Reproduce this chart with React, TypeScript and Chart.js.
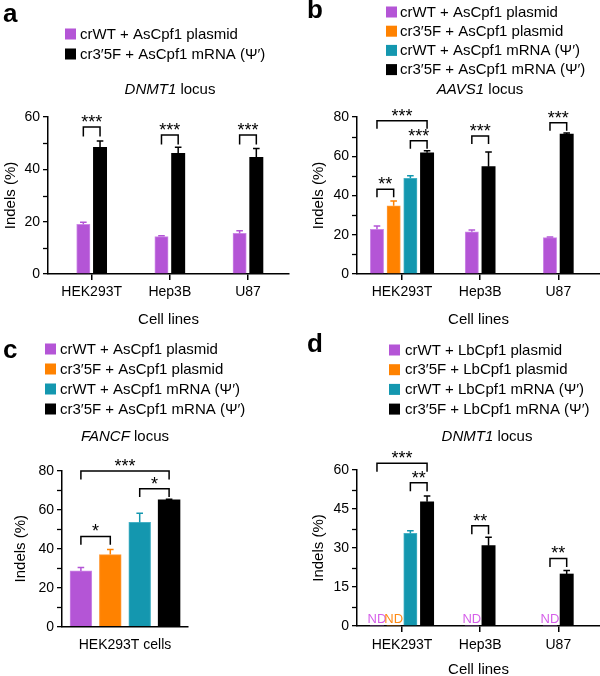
import React, { useEffect, useRef } from 'react';
import { Chart, registerables } from 'chart.js';

Chart.register(...registerables);

const FONT = "'Liberation Sans', Arial, Helvetica, sans-serif";
Chart.defaults.font.family = FONT;
Chart.defaults.color = '#000';

// ---------------- data ----------------
const cellLines = ['HEK293T', 'Hep3B', 'U87'];
const cellsC = ['HEK293T cells'];
const yAxisTitle = 'Indels (%)';
const xAxisTitle = 'Cell lines';

// panel a – DNMT1 locus (AsCpf1)
const aLabels = ['crWT + AsCpf1 plasmid', 'cr3\u20325F + AsCpf1 mRNA (\u03A8\u2032)'];
const aWtPlasmid = [19.0, 14.3, 15.5];
const aWtPlasmidErr = [0.8, 0.3, 1.0];
const a5fMrna = [48.4, 46.1, 44.6];
const a5fMrnaErr = [2.4, 2.3, 3.4];
const aTicks = [0, 20, 40, 60];
const aBrackets: [number, number, number, number, string][] = [
  [0, 0, 1, 56.2, '***'],
  [1, 0, 1, 53.1, '***'],
  [2, 0, 1, 53.1, '***'],
];

// panel b – AAVS1 locus (AsCpf1)
const asLabels = [
  'crWT + AsCpf1 plasmid',
  'cr3\u20325F + AsCpf1 plasmid',
  'crWT + AsCpf1 mRNA (\u03A8\u2032)',
  'cr3\u20325F + AsCpf1 mRNA (\u03A8\u2032)',
];
const bWtPlasmid = [22.8, 21.5, 18.5];
const bWtPlasmidErr = [1.6, 0.9, 0.3];
const b5fPlasmid = [34.8, null, null];
const b5fPlasmidErr = [2.4, null, null];
const bWtMrna = [48.8, null, null];
const bWtMrnaErr = [1.3, null, null];
const b5fMrna = [61.8, 54.7, 71.3];
const b5fMrnaErr = [1.0, 7.5, 0.5];
const bTicks = [0, 20, 40, 60, 80];
const bBrackets: [number, number, number, number, string][] = [
  [0, 0, 1, 43.2, '**'],
  [0, 2, 3, 67.9, '***'],
  [0, 0, 3, 78.1, '***'],
  [1, 0, 3, 70.3, '***'],
  [2, 0, 3, 77.1, '***'],
];

// panel c – FANCF locus (AsCpf1, HEK293T)
const cWtPlasmid = [28.6];
const cWtPlasmidErr = [1.7];
const c5fPlasmid = [37.0];
const c5fPlasmidErr = [2.6];
const cWtMrna = [53.5];
const cWtMrnaErr = [4.7];
const c5fMrna = [65.0];
const c5fMrnaErr = [0.4];
const cTicks = [0, 20, 40, 60, 80];
const cBrackets: [number, number, number, number, string][] = [
  [0, 0, 1, 46.3, '*'],
  [0, 2, 3, 70.8, '*'],
  [0, 0, 3, 79.8, '***'],
];

// panel d – DNMT1 locus (LbCpf1); 0 = not detected (ND)
const lbLabels = [
  'crWT + LbCpf1 plasmid',
  'cr3\u20325F + LbCpf1 plasmid',
  'crWT + LbCpf1 mRNA (\u03A8\u2032)',
  'cr3\u20325F + LbCpf1 mRNA (\u03A8\u2032)',
];
const dWtPlasmid = [0, 0, 0];
const d5fPlasmid = [0, null, null];
const dWtMrna = [35.6, null, null];
const dWtMrnaErr = [1.0, null, null];
const d5fMrna = [47.8, 30.9, 20.0];
const d5fMrnaErr = [2.2, 3.2, 1.3];
const dTicks = [0, 15, 30, 45, 60];
const ndText = 'ND';
const dBrackets: [number, number, number, number, string][] = [
  [0, 0, 3, 62.6, '***'],
  [0, 2, 3, 55.1, '**'],
  [1, 0, 3, 38.6, '**'],
  [2, 0, 3, 26.0, '**'],
];

// ---------------- styles ----------------
const PURPLE = '#B455D6';
const PURPLE_EDGE = '#CC88E6';
const ORANGE = '#FF8200';
const ORANGE_EDGE = '#FF9A36';
const TEAL = '#1497AF';
const TEAL_EDGE = '#45B1C5';
const BLACK = '#000000';
const ND_PURPLE = '#D65FEA';
const ND_ORANGE = '#FF8A14';

function bar(label: string, data: any[], errors: any[] | null, color: string, edge: string | null, extra: any = {}) {
  return {
    label,
    data,
    errors,
    backgroundColor: color,
    borderColor: edge || color,
    borderWidth: edge ? 1 : 0,
    errColor: color,
    ...extra,
  };
}

interface PanelSpec {
  key: string;
  pos: { left: number; top: number; width: number; height: number };
  area: { left: number; right: number; top: number; bottom: number };
  catStart: number;
  catRange: number;
  categories: string[];
  datasets: any[];
  yMax: number;
  yMajor: number[];
  brackets: [number, number, number, number, string][];
  letter: string;
  letterX: number;
  letterY: number;
  legendX: number;
  legendY: number;
  legendDy: number;
  legendTextX: number;
  titleItalic: string;
  titleRest: string;
  titleX: number;
  titleY: number;
  yTitlePad: number;
  xTitle?: string;
  xTitlePad: number;
  xTicks: boolean;
  xLabelPad: number;
  barChunk: number;
  barWidth: number;
  bracketLeg: number;
}

const specs: PanelSpec[] = [
  {
    key: 'a',
    pos: { left: 0, top: 0, width: 300, height: 330 },
    area: { left: 48, right: 289, top: 117, bottom: 274 },
    catStart: -0.559,
    catRange: 3.084,
    categories: cellLines,
    datasets: [
      bar(aLabels[0], aWtPlasmid, aWtPlasmidErr, PURPLE, PURPLE_EDGE),
      bar(aLabels[1], a5fMrna, a5fMrnaErr, BLACK, null),
    ],
    yMax: 60,
    yMajor: aTicks,
    brackets: aBrackets,
    letter: 'a',
    letterX: 3,
    letterY: 22,
    legendX: 65,
    legendY: 34,
    legendDy: 20,
    legendTextX: 80,
    titleItalic: 'DNMT1',
    titleRest: ' locus',
    titleX: 170,
    titleY: 90,
    yTitlePad: 1.5,
    xTitle: xAxisTitle,
    xTitlePad: 1,
    xTicks: true,
    xLabelPad: 4,
    barChunk: 16.7,
    barWidth: 13.3,
    bracketLeg: 9.5,
  },
  {
    key: 'b',
    pos: { left: 300, top: 0, width: 300, height: 330 },
    area: { left: 57, right: 300, top: 117, bottom: 274 },
    catStart: -0.576,
    catRange: 3.109,
    categories: cellLines,
    datasets: [
      bar(asLabels[0], bWtPlasmid, bWtPlasmidErr, PURPLE, PURPLE_EDGE),
      bar(asLabels[1], b5fPlasmid, b5fPlasmidErr, ORANGE, ORANGE_EDGE),
      bar(asLabels[2], bWtMrna, bWtMrnaErr, TEAL, TEAL_EDGE),
      bar(asLabels[3], b5fMrna, b5fMrnaErr, BLACK, null),
    ],
    yMax: 80,
    yMajor: bTicks,
    brackets: bBrackets,
    letter: 'b',
    letterX: 7,
    letterY: 18,
    legendX: 86,
    legendY: 12,
    legendDy: 19.2,
    legendTextX: 100,
    titleItalic: 'AAVS1',
    titleRest: ' locus',
    titleX: 180,
    titleY: 90,
    yTitlePad: 10,
    xTitle: xAxisTitle,
    xTitlePad: 1,
    xTicks: true,
    xLabelPad: 4,
    barChunk: 16.7,
    barWidth: 13.3,
    bracketLeg: 8,
  },
  {
    key: 'c',
    pos: { left: 0, top: 330, width: 300, height: 346 },
    area: { left: 62, right: 188, top: 140.7, bottom: 296.7 },
    catStart: -0.5,
    catRange: 1,
    categories: cellsC,
    datasets: [
      bar(asLabels[0], cWtPlasmid, cWtPlasmidErr, PURPLE, PURPLE_EDGE),
      bar(asLabels[1], c5fPlasmid, c5fPlasmidErr, ORANGE, ORANGE_EDGE),
      bar(asLabels[2], cWtMrna, cWtMrnaErr, TEAL, TEAL_EDGE),
      bar(asLabels[3], c5fMrna, c5fMrnaErr, BLACK, null),
    ],
    yMax: 80,
    yMajor: cTicks,
    brackets: cBrackets,
    letter: 'c',
    letterX: 3,
    letterY: 28,
    legendX: 45,
    legendY: 19,
    legendDy: 20,
    legendTextX: 60,
    titleItalic: 'FANCF',
    titleRest: ' locus',
    titleX: 125,
    titleY: 107,
    yTitlePad: 12,
    xTitlePad: 1,
    xTicks: false,
    xLabelPad: 10,
    barChunk: 29.4,
    barWidth: 21.8,
    bracketLeg: 8.3,
  },
  {
    key: 'd',
    pos: { left: 300, top: 330, width: 300, height: 350 },
    area: { left: 57, right: 300, top: 140, bottom: 296 },
    catStart: -0.576,
    catRange: 3.109,
    categories: cellLines,
    datasets: [
      bar(lbLabels[0], dWtPlasmid, null, PURPLE, null, { ndColor: ND_PURPLE }),
      bar(lbLabels[1], d5fPlasmid, null, ORANGE, null, { ndColor: ND_ORANGE }),
      bar(lbLabels[2], dWtMrna, dWtMrnaErr, TEAL, TEAL_EDGE),
      bar(lbLabels[3], d5fMrna, d5fMrnaErr, BLACK, null),
    ],
    yMax: 60,
    yMajor: dTicks,
    brackets: dBrackets,
    letter: 'd',
    letterX: 7,
    letterY: 22,
    legendX: 89,
    legendY: 20,
    legendDy: 19.7,
    legendTextX: 105,
    titleItalic: 'DNMT1',
    titleRest: ' locus',
    titleX: 187,
    titleY: 107,
    yTitlePad: 10,
    xTitle: xAxisTitle,
    xTitlePad: 1,
    xTicks: true,
    xLabelPad: 5,
    barChunk: 16.7,
    barWidth: 13.3,
    bracketLeg: 8.5,
  },
];

function makeDecor(spec: PanelSpec) {
  return {
    id: 'decor_' + spec.key,
    afterDatasetsDraw(chart: any) {
      const ctx = chart.ctx;
      const ys = chart.scales.y;
      chart.data.datasets.forEach((ds: any, di: number) => {
        const meta = chart.getDatasetMeta(di);
        ctx.save();
        if (ds.errors) {
          ctx.strokeStyle = ds.errColor;
          ctx.lineWidth = 1.5;
          ds.data.forEach((v: any, i: number) => {
            const e = ds.errors[i];
            const el = meta.data[i];
            if (v == null || e == null || !el) return;
            const x = el.x;
            const y0 = ys.getPixelForValue(v);
            const y1 = ys.getPixelForValue(v + e);
            ctx.beginPath();
            ctx.moveTo(x, y0);
            ctx.lineTo(x, y1);
            ctx.moveTo(x - 3.3, y1);
            ctx.lineTo(x + 3.3, y1);
            ctx.stroke();
          });
        }
        if (ds.ndColor) {
          ctx.fillStyle = ds.ndColor;
          ctx.font = `13px ${FONT}`;
          ctx.textAlign = 'center';
          ctx.textBaseline = 'alphabetic';
          ds.data.forEach((v: any, i: number) => {
            const el = meta.data[i];
            if (v !== 0 || !el) return;
            ctx.fillText(ndText, el.x, chart.chartArea.bottom - 3);
          });
        }
        ctx.restore();
      });
    },
    afterDraw(chart: any) {
      const ctx = chart.ctx;
      const ys = chart.scales.y;
      ctx.save();

      // minor y ticks halfway between the labelled ticks
      ctx.strokeStyle = '#000';
      ctx.lineWidth = 1.3;
      const ax = chart.chartArea.left;
      for (let i = 0; i < spec.yMajor.length - 1; i++) {
        const v = (spec.yMajor[i] + spec.yMajor[i + 1]) / 2;
        const y = Math.round(ys.getPixelForValue(v)) + 0.5;
        ctx.beginPath();
        ctx.moveTo(ax - 5, y);
        ctx.lineTo(ax, y);
        ctx.stroke();
      }

      // panel letter
      ctx.fillStyle = '#000';
      ctx.font = `bold 26px ${FONT}`;
      ctx.textAlign = 'left';
      ctx.textBaseline = 'alphabetic';
      ctx.fillText(spec.letter, spec.letterX, spec.letterY);

      // legend
      ctx.font = `15px ${FONT}`;
      ctx.textBaseline = 'middle';
      chart.data.datasets.forEach((ds: any, i: number) => {
        const cy = spec.legendY + i * spec.legendDy;
        ctx.fillStyle = ds.backgroundColor;
        ctx.fillRect(spec.legendX, cy - 5.5, 11, 11);
        ctx.fillStyle = '#000';
        ctx.fillText(ds.label, spec.legendTextX, cy + 0.5);
      });

      // title with italic gene name
      ctx.font = `italic 15px ${FONT}`;
      const w1 = ctx.measureText(spec.titleItalic).width;
      ctx.font = `15px ${FONT}`;
      const w2 = ctx.measureText(spec.titleRest).width;
      const sx = spec.titleX - (w1 + w2) / 2;
      ctx.font = `italic 15px ${FONT}`;
      ctx.fillText(spec.titleItalic, sx, spec.titleY);
      ctx.font = `15px ${FONT}`;
      ctx.fillText(spec.titleRest, sx + w1, spec.titleY);

      // significance brackets
      ctx.strokeStyle = '#000';
      ctx.lineWidth = 1.5;
      ctx.font = `18px ${FONT}`;
      ctx.textAlign = 'center';
      ctx.textBaseline = 'alphabetic';
      spec.brackets.forEach(([cat, from, to, level, stars]) => {
        const e1 = chart.getDatasetMeta(from).data[cat];
        const e2 = chart.getDatasetMeta(to).data[cat];
        if (!e1 || !e2) return;
        const x1 = e1.x;
        const x2 = e2.x;
        const yt = ys.getPixelForValue(level);
        ctx.beginPath();
        ctx.moveTo(x1, yt + spec.bracketLeg);
        ctx.lineTo(x1, yt);
        ctx.lineTo(x2, yt);
        ctx.lineTo(x2, yt + spec.bracketLeg);
        ctx.stroke();
        const m = ctx.measureText(stars);
        const a = m.actualBoundingBoxAscent || 13;
        const d = m.actualBoundingBoxDescent || -7;
        const target = yt - 8.5;
        ctx.fillText(stars, (x1 + x2) / 2, target - (d - a) / 2);
      });
      ctx.restore();
    },
  };
}

function buildChart(canvas: HTMLCanvasElement, spec: PanelSpec) {
  const { area, pos } = spec;
  const datasets = spec.datasets.map((ds) => ({
    ...ds,
    barThickness: spec.barChunk,
    maxBarThickness: spec.barWidth,
    skipNull: true,
  }));
  return new Chart(canvas, {
    type: 'bar',
    data: { labels: spec.categories, datasets },
    options: {
      responsive: false,
      animation: false,
      events: [],
      layout: { padding: { top: area.top, left: 0, right: pos.width - area.right, bottom: 0 } },
      plugins: {
        legend: { display: false },
        title: { display: false },
        tooltip: { enabled: false },
      },
      scales: {
        x: {
          type: 'category',
          offset: true,
          grid: {
            display: spec.xTicks,
            drawOnChartArea: false,
            offset: false,
            drawTicks: spec.xTicks,
            tickLength: 6,
            color: '#000',
            lineWidth: 1.5,
          },
          border: { display: true, color: '#000', width: 1.5 },
          ticks: {
            color: '#000',
            font: { size: 14, family: FONT },
            padding: spec.xLabelPad,
            maxRotation: 0,
            autoSkip: false,
          },
          title: spec.xTitle
            ? {
                display: true,
                text: spec.xTitle,
                color: '#000',
                font: { size: 15, family: FONT },
                padding: { top: 0, bottom: spec.xTitlePad },
              }
            : { display: false },
          afterBuildTicks: (s: any) => {
            s._startValue = spec.catStart;
            s._valueRange = spec.catRange;
          },
          afterFit: (s: any) => {
            s.height = pos.height - area.bottom;
          },
        } as any,
        y: {
          type: 'linear',
          min: 0,
          max: spec.yMax,
          grid: {
            drawOnChartArea: false,
            drawTicks: true,
            tickLength: 5,
            color: '#000',
            lineWidth: 1.3,
          },
          border: { display: true, color: '#000', width: 1.5 },
          ticks: {
            stepSize: spec.yMajor[1] - spec.yMajor[0],
            autoSkip: false,
            color: '#000',
            font: { size: 14, family: FONT },
            padding: 3,
          },
          title: {
            display: true,
            text: yAxisTitle,
            color: '#000',
            font: { size: 15, family: FONT },
            padding: { top: spec.yTitlePad, bottom: 0 },
          },
          afterFit: (s: any) => {
            s.width = area.left;
          },
        } as any,
      },
    } as any,
    plugins: [makeDecor(spec) as any],
  });
}

export default function App() {
  const refs = useRef<(HTMLCanvasElement | null)[]>([]);

  useEffect(() => {
    const charts = specs.map((spec, i) => {
      const c = refs.current[i];
      return c ? buildChart(c, spec) : null;
    });
    return () => {
      charts.forEach((ch) => ch && ch.destroy());
    };
  }, []);

  return (
    <div
      style={{
        position: 'fixed',
        left: 0,
        top: 0,
        width: 600,
        height: 676,
        overflow: 'hidden',
        background: '#fff',
      }}
    >
      {specs.map((spec, i) => (
        <canvas
          key={spec.key}
          ref={(el) => {
            refs.current[i] = el;
          }}
          width={spec.pos.width}
          height={spec.pos.height}
          style={{
            position: 'absolute',
            left: spec.pos.left,
            top: spec.pos.top,
            width: spec.pos.width,
            height: spec.pos.height,
          }}
        />
      ))}
    </div>
  );
}
